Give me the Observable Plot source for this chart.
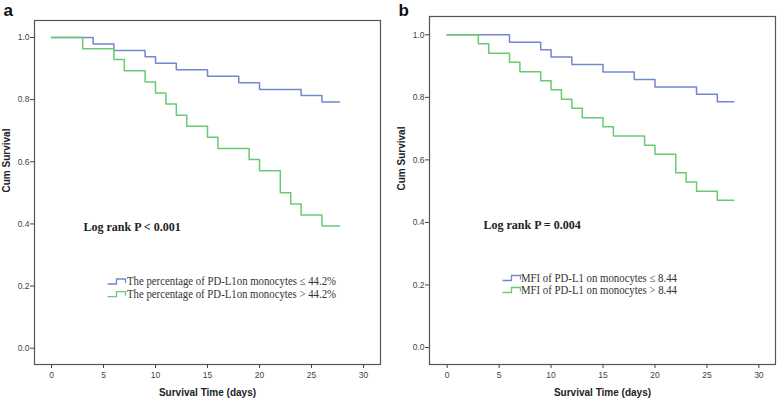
<!DOCTYPE html>
<html>
<head>
<meta charset="utf-8">
<script src="https://cdn.jsdelivr.net/npm/d3@7"></script>
<script src="https://cdn.jsdelivr.net/npm/@observablehq/plot@0.6"></script>
<style>
  html, body { margin: 0; padding: 0; background: #fff; }
  #root { position: relative; width: 778px; height: 400px; overflow: hidden; }
  #root > svg, #root > .panel { position: absolute; top: 0; }
</style>
</head>
<body>
<div id="root"></div>
<script>
// ---- Data ----
const timesALow  = [0, 4, 6, 9, 10, 12, 15, 18, 20, 24, 26, 27.7];
const survALow   = [1, 0.979, 0.958, 0.938, 0.917, 0.896, 0.875, 0.854, 0.833, 0.813, 0.792, 0.792];
const timesAHigh = [0, 3, 6, 7, 9, 10, 11, 12, 13, 15, 16, 19, 20, 22, 23, 24, 26, 27.7];
const survAHigh  = [1, 0.964, 0.929, 0.893, 0.857, 0.821, 0.786, 0.750, 0.714, 0.679, 0.643, 0.607, 0.571, 0.500, 0.464, 0.429, 0.393, 0.393];

const timesBLow  = [0, 6, 9, 10, 12, 15, 18, 20, 24, 26, 27.6];
const survBLow   = [1, 0.976, 0.952, 0.929, 0.905, 0.881, 0.857, 0.833, 0.810, 0.786, 0.786];
const timesBHigh = [0, 3, 4, 6, 7, 9, 10, 11, 12, 13, 15, 16, 19, 20, 22, 23, 24, 26, 27.6];
const survBHigh  = [1, 0.971, 0.941, 0.912, 0.882, 0.853, 0.824, 0.794, 0.765, 0.735, 0.706, 0.676, 0.647, 0.618, 0.559, 0.529, 0.500, 0.471, 0.471];

const xTicks = [0, 5, 10, 15, 20, 25, 30];
const yTicks = [0, 0.2, 0.4, 0.6, 0.8, 1.0];

const panelLabels = ["a", "b"];
const pTexts = ["Log rank P < 0.001", "Log rank P = 0.004"];
const legendA = ["The percentage of PD-L1on monocytes \u2264 44.2%", "The percentage of PD-L1on monocytes > 44.2%"];
const legendB = ["MFI of PD-L1 on monocytes \u2264 8.44", "MFI of PD-L1 on monocytes > 8.44"];
const xTitle = "Survival Time (days)";
const yTitle = "Cum Survival";

const BLUE = "#7386cf";
const GREEN = "#68cb73";

function series(times, surv) {
  return times.map((t, i) => ({t, s: surv[i]}));
}

function panel(opts) {
  const {width, mLeft, mRight, mTop, mBottom, xDomain, yDomain, low, high, label, labelDy, pText, pDx, pDy} = opts;
  return Plot.plot({
    width, height: 400,
    marginLeft: mLeft, marginRight: mRight, marginTop: mTop, marginBottom: mBottom,
    style: {fontFamily: "'Liberation Sans', Arial, sans-serif", fontSize: "8.5px", color: "#444", background: "#fff"},
    x: {domain: xDomain},
    y: {domain: yDomain},
    marks: [
      Plot.frame({stroke: "#555", strokeWidth: 1.2}),
      Plot.axisX({ticks: xTicks, tickSize: 4, tickPadding: 3, label: null, tickFormat: d3.format("d"), stroke: "#444"}),
      Plot.axisY({ticks: yTicks, tickSize: 4, tickPadding: 1, label: null, tickFormat: d3.format(".1f"), stroke: "#444"}),
      Plot.line(low, {x: "t", y: "s", curve: "step-after", stroke: BLUE, strokeWidth: 1.5}),
      Plot.line(high, {x: "t", y: "s", curve: "step-after", stroke: GREEN, strokeWidth: 1.5}),
      Plot.text([xTitle], {frameAnchor: "bottom", dy: 31, lineAnchor: "bottom", fontSize: 10, fontWeight: "bold", fill: "#222"}),
      Plot.text([yTitle], {frameAnchor: "left", dx: -28, rotate: -90, lineAnchor: "middle", fontSize: 10, fontWeight: "bold", fill: "#222"}),
      Plot.text([label], {frameAnchor: "top-left", dx: -31, dy: labelDy, textAnchor: "start", lineAnchor: "bottom", fontSize: 17, fontWeight: "bold", fill: "#111"}),
      Plot.text([pText], {frameAnchor: "top-left", dx: pDx, dy: pDy, textAnchor: "start", lineAnchor: "bottom", fontSize: 12, fontWeight: "bold", fontFamily: "'Liberation Serif', 'Times New Roman', serif", fill: "#222"})
    ]
  });
}

const root = document.getElementById("root");

const pa = panel({
  width: 390, mLeft: 34, mRight: 10, mTop: 20, mBottom: 36,
  xDomain: [-1.635, 31.63], yDomain: [-0.0525, 1.0547],
  low: series(timesALow, survALow), high: series(timesAHigh, survAHigh),
  label: panelLabels[0], labelDy: -5, pText: pTexts[0], pDx: 49, pDy: 210
});
pa.style.left = "0px";
root.appendChild(pa);

const pb = panel({
  width: 388, mLeft: 39, mRight: 3, mTop: 16, mBottom: 36,
  xDomain: [-1.70, 31.6], yDomain: [-0.0543, 1.0585],
  low: series(timesBLow, survBLow), high: series(timesBHigh, survBHigh),
  label: panelLabels[1], labelDy: -1, pText: pTexts[1], pDx: 54, pDy: 212
});
pb.style.left = "390px";
root.appendChild(pb);

// ---- Legends (overlay) ----
const ns = "http://www.w3.org/2000/svg";
const ov = document.createElementNS(ns, "svg");
ov.setAttribute("width", 778); ov.setAttribute("height", 400);
ov.style.position = "absolute"; ov.style.left = "0px"; ov.style.top = "0px"; ov.style.pointerEvents = "none";
root.appendChild(ov);

function legend(items, sx, textX, baselines, textLen) {
  const colors = [BLUE, GREEN];
  items.forEach((txt, i) => {
    const b = baselines[i];
    const p = document.createElementNS(ns, "path");
    p.setAttribute("d", `M${sx},${b - 1} H${sx + 9} V${b - 6} H${sx + 18} V${b - 2}`);
    p.setAttribute("fill", "none");
    p.setAttribute("stroke", colors[i]);
    p.setAttribute("stroke-width", 1.3);
    ov.appendChild(p);
    const t = document.createElementNS(ns, "text");
    t.setAttribute("x", textX); t.setAttribute("y", b);
    t.setAttribute("font-family", "'Liberation Serif', 'Times New Roman', serif");
    t.setAttribute("font-size", 11.5);
    t.setAttribute("fill", "#333");
    t.setAttribute("textLength", textLen);
    t.setAttribute("lengthAdjust", "spacingAndGlyphs");
    t.textContent = txt;
    ov.appendChild(t);
  });
}
legend(legendA, 107.5, 127, [285, 297.7], 209);
legend(legendB, 502.5, 521, [281.5, 293.5], 156);
</script>
</body>
</html>
